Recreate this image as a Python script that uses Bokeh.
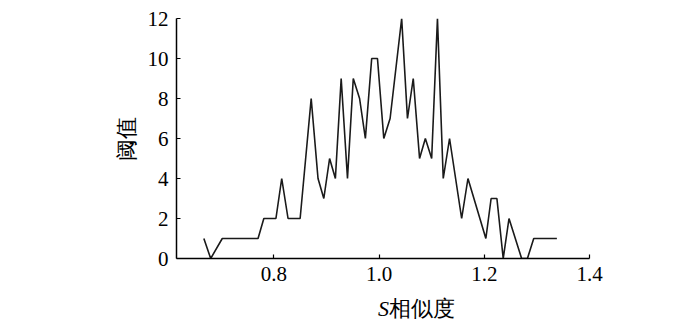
from bokeh.plotting import figure
from bokeh.layouts import column
from bokeh.models import Range1d, FixedTicker, PrintfTickFormatter
from bokeh.core.properties import value
from bokeh.embed import file_html
from bokeh.resources import INLINE

# data
s_similarity = [0.667, 0.680, 0.702, 0.770, 0.781, 0.804, 0.815, 0.827, 0.850, 0.871,
                0.884, 0.895, 0.906, 0.917, 0.928, 0.940, 0.951, 0.963, 0.974, 0.986,
                0.997, 1.009, 1.021, 1.043, 1.054, 1.065, 1.077, 1.088, 1.100, 1.111,
                1.122, 1.134, 1.157, 1.169, 1.203, 1.213, 1.224, 1.236, 1.247, 1.271,
                1.282, 1.294, 1.338]
threshold = [1, 0, 1, 1, 2, 2, 4, 2, 2, 8,
             4, 3, 5, 4, 9, 4, 9, 8, 6, 10,
             10, 6, 7, 12, 7, 9, 5, 6, 5, 12,
             4, 6, 2, 4, 1, 3, 3, 0, 2, 0,
             0, 1, 1]
x_ticks = [0.8, 1.0, 1.2, 1.4]
y_ticks = [0, 2, 4, 6, 8, 10, 12]
y_label = "阈值"
x_label_italic = "S"
x_label_rest = "相似度"

SERIF = "'Liberation Serif', 'Times New Roman', serif"
W = 684

p = figure(width=W, height=290, output_backend="svg", toolbar_location=None,
           x_range=Range1d(0.615, 1.4), y_range=Range1d(0, 12),
           min_border_left=176, min_border_right=95, min_border_top=18,
           min_border_bottom=32)
p.line(s_similarity, threshold, line_color="#1a1a1a", line_width=1.6)

p.grid.visible = False
p.outline_line_color = None
p.background_fill_color = "white"
p.border_fill_color = "white"

for ax in (p.xaxis[0], p.yaxis[0]):
    ax.axis_line_color = "black"
    ax.axis_line_width = 1.5
    ax.major_tick_line_color = "black"
    ax.major_tick_line_width = 1.2
    ax.major_tick_in = 4
    ax.major_tick_out = 0
    ax.minor_tick_line_color = None
    ax.major_label_text_font = SERIF
    ax.major_label_text_font_size = "21px"
    ax.major_label_text_color = "black"

p.xaxis.ticker = FixedTicker(ticks=x_ticks)
p.yaxis.ticker = FixedTicker(ticks=y_ticks)
p.xaxis.formatter = PrintfTickFormatter(format="%.1f")
p.yaxis.formatter = PrintfTickFormatter(format="%d")
p.xaxis.major_label_standoff = 8
p.yaxis.major_label_standoff = 8

p.yaxis.axis_label = y_label
p.yaxis.axis_label_text_font = SERIF
p.yaxis.axis_label_text_font_style = "normal"
p.yaxis.axis_label_text_font_size = "22px"
p.yaxis.axis_label_text_color = "black"
p.yaxis.axis_label_standoff = 6

# x-axis title strip (italic S + upright CJK), placed under the plot
q = figure(width=W, height=40, output_backend="svg", toolbar_location=None,
           x_range=Range1d(0, W), y_range=Range1d(0, 40),
           min_border_left=0, min_border_right=0, min_border_top=0,
           min_border_bottom=0)
q.xaxis.visible = False
q.yaxis.visible = False
q.grid.visible = False
q.outline_line_color = None
q.border_fill_color = "white"
q.background_fill_color = "white"
q.text(x=[352], y=[22], text=[x_label_italic], text_font=value(SERIF),
       text_font_style="italic", text_font_size="22px", text_align="right",
       text_baseline="middle", text_color="black")
q.text(x=[352], y=[22], text=[x_label_rest], text_font=value(SERIF),
       text_font_size="22px", text_align="left", text_baseline="middle",
       text_color="black")

layout = column(p, q, spacing=0)
open("out.html", "w").write(file_html(layout, INLINE))
